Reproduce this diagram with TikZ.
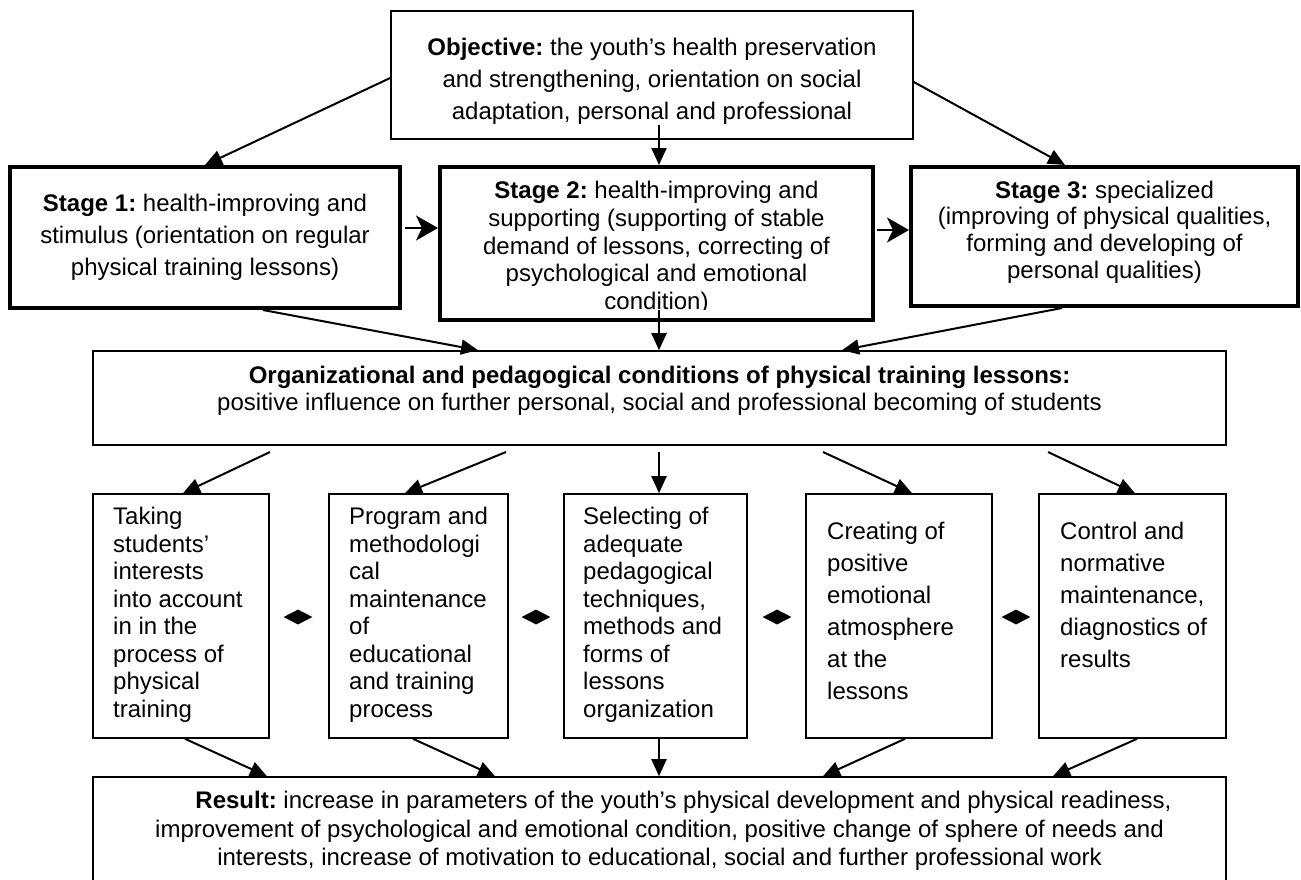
\documentclass[tikz,border=0pt]{standalone}
\usepackage{fontspec}
\setmainfont{Liberation Sans}
\frenchspacing
\usetikzlibrary{arrows.meta,shapes.geometric,calc}
\begin{document}
\begin{tikzpicture}[x=1pt,y=-1pt,
  box/.style={draw, line width=1.6pt, inner sep=0pt},
  stagebox/.style={draw, line width=4pt, inner sep=0pt},
  txt/.style={inner sep=0pt, align=center, font=\fontsize{24}{#1}\selectfont},
  ltxt/.style={inner sep=0pt, align=left, anchor=west, font=\fontsize{24}{#1}\selectfont},
  arr/.style={line width=2pt, -{Triangle[length=17pt,width=15pt]}},
  sarr/.style={line width=2pt, -{Stealth[length=22pt,width=25pt,inset=6pt]}},
  dia/.style={diamond, fill=black, inner sep=0pt, minimum width=29pt, minimum height=15pt}
]
\useasboundingbox (0,0) rectangle (1301,879);
\fill[white] (0,0) rectangle (1301,879);
\begin{scope}
\clip (0,0) rectangle (1301,879);

% Objective
\node[box, minimum width=522pt, minimum height=128pt] (obj) at (652,75) {};
\node[txt=32] (objt) at (652,81) {\textbf{Objective:} the youth’s health preservation\\and strengthening, orientation on social\\adaptation, personal and professional};

% Stages
\node[stagebox, minimum width=390pt, minimum height=141pt, txt=32] (st1) at (205,237.5)
  {\textbf{Stage 1:} health-improving and\\stimulus (orientation on regular\\physical training lessons)};
\node[stagebox, minimum width=433pt, minimum height=153pt] (st2) at (656.5,243.5) {};
\begin{scope}
\clip (442,169) rectangle (871,309);
\node[txt=27.7] (st2t) at (656.5,248) {\textbf{Stage 2:} health-improving and\\supporting (supporting of stable\\demand of lessons, correcting of\\psychological and emotional\\condition)};
\end{scope}
\node[stagebox, minimum width=387pt, minimum height=139pt] (st3) at (1104.5,236.5) {};
\node[txt=26.7] (st3t) at (1104.5,232) {\textbf{Stage 3:} specialized\\(improving of physical qualities,\\forming and developing of\\personal qualities)};

% Organizational conditions
\node[box, minimum width=1133pt, minimum height=94pt] (org) at (659.5,398) {};
\node[txt=27] (orgt) at (659.5,390.5) {\textbf{Organizational and pedagogical conditions of physical training lessons:}\\positive influence on further personal, social and professional becoming of students};

% Lower boxes
\node[box, minimum width=176pt, minimum height=244pt] (b1) at (181,616) {};
\node[box, minimum width=179pt, minimum height=244pt] (b2) at (418.5,616) {};
\node[box, minimum width=183pt, minimum height=244pt] (b3) at (655.5,616) {};
\node[box, minimum width=186pt, minimum height=244pt] (b4) at (899,616) {};
\node[box, minimum width=187pt, minimum height=244pt] (b5) at (1132.5,616) {};
\node[ltxt=27.5] (b1t) at (113,615) {Taking\\students’\\interests\\into account\\in in the\\process of\\physical\\training};
\node[ltxt=27.5] (b2t) at (349,615) {Program and\\methodologi\\cal\\maintenance\\of\\educational\\and training\\process};
\node[ltxt=27.5] (b3t) at (583,615) {Selecting of\\adequate\\pedagogical\\techniques,\\methods and\\forms of\\lessons\\organization};
\node[ltxt=32] (b4t) at (827,610.5) {Creating of\\positive\\emotional\\atmosphere\\at the\\lessons};
\node[ltxt=32] (b5t) at (1060,595) {Control and\\normative\\maintenance,\\diagnostics of\\results};

\node[dia] (d1) at (298,617) {};
\node[dia] (d2) at (536,617) {};
\node[dia] (d3) at (777,617) {};
\node[dia] (d4) at (1016,617) {};

% Result
\node[box, minimum width=1133pt, minimum height=123pt] (res) at (659.5,838.5) {};
\node[txt=28.5] (rest) at (659.5,831) {\hspace*{48pt}\textbf{Result:} increase in parameters of the youth’s physical development and physical readiness,\\improvement of psychological and emotional condition, positive change of sphere of needs and\\interests, increase of motivation to educational, social and further professional work};

% free-end coordinates
\coordinate (objc) at (659,125);
\coordinate (st2c) at (659,310);
\coordinate (o1) at (270,452);
\coordinate (o2) at (506,452);
\coordinate (o3) at (659,452);
\coordinate (o4) at (823,452);
\coordinate (o5) at (1048,452);

% Arrows: objective -> stages
\draw[arr] (obj.west |- 0,78) -- (st1.north);
\draw[arr] (objc) -- (659,0 |- st2.north);
\draw[arr] (obj.east |- 0,82) -- (1065,0 |- st3.north);

% stage -> stage
\draw[sarr] ($(st1.east |- 0,228)+(3,0)$) -- (st2.west |- 0,228);
\draw[sarr] ($(st2.east |- 0,230)+(2,0)$) -- (st3.west |- 0,230);

% stages -> org
\draw[arr] (263,0 |- st1.south) -- (478,0 |- org.north);
\draw[arr] (st2c) -- (659,0 |- org.north);
\draw[arr] (1062,0 |- st3.south) -- (842,0 |- org.north);

% org -> boxes
\draw[arr] (o1) -- (183,0 |- b1.north);
\draw[arr] (o2) -- (405,0 |- b2.north);
\draw[arr] (o3) -- (659,0 |- b3.north);
\draw[arr] (o4) -- (912,0 |- b4.north);
\draw[arr] (o5) -- (1135,0 |- b5.north);

% boxes -> result
\draw[arr] (185,0 |- b1.south) -- (267,0 |- res.north);
\draw[arr] (413,0 |- b2.south) -- (495,0 |- res.north);
\draw[arr] (659,0 |- b3.south) -- (659,0 |- res.north);
\draw[arr] (905,0 |- b4.south) -- (823,0 |- res.north);
\draw[arr] (1137,0 |- b5.south) -- (1053,0 |- res.north);
\end{scope}
\end{tikzpicture}
\end{document}
